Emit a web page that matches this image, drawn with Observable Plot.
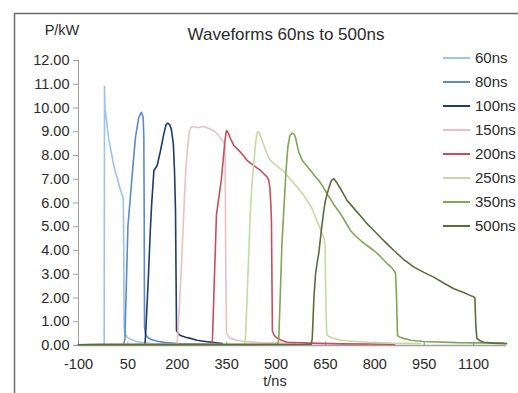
<!DOCTYPE html>
<html><head><meta charset="utf-8">
<script src="https://cdn.jsdelivr.net/npm/d3@7"></script>
<script src="https://cdn.jsdelivr.net/npm/@observablehq/plot@0.6"></script>
<style>
body{margin:0;background:#fff;overflow:hidden;font-family:"Liberation Sans",Arial,sans-serif;}
#chart{position:relative;width:518px;height:393px;overflow:hidden;}
</style></head><body><div id="chart"></div>
<script>
const seriesNames = ["60ns","80ns","100ns","150ns","200ns","250ns","350ns","500ns"];
const seriesColors = ["#9dc3e6","#5b8bc8","#1f3d68","#ecc0c2","#c4505f","#c6d9a0","#84a456","#5c6c3a"];
const xTicks = [-100,50,200,350,500,650,800,950,1100];
const yTicks = [0,1,2,3,4,5,6,7,8,9,10,11,12];

const t60 = [-100,-22,-21,-20,-19,-18,-15,-12,-8,-3,2,6,12,18,25,31,36,37.5,38.5,41,48,60,80,120,250];
const p60 = [0.03,0.05,10.9,10.2,9.65,9.85,9.5,9.1,8.7,8.3,7.95,7.65,7.3,7.05,6.65,6.4,6.2,4.0,0.8,0.5,0.35,0.25,0.15,0.08,0.05];

const t80 = [-100,38,41,50,56,62,66,73,83,91,96.5,98.4,99.5,100.5,103,109,120,140,160,200,300];
const p80 = [0.03,0.05,0.3,5.0,6.0,7.0,7.66,8.76,9.6,9.82,9.6,8.76,5.7,0.8,0.5,0.35,0.25,0.18,0.13,0.08,0.05];

const t100 = [-100,102,104,112,118,122,129,139,149,159,166,171,177,182,186,188,191.6,194.6,197.7,203,210,225,240,260,280,337];
const p100 = [0.03,0.05,0.5,2.8,4.8,5.9,7.37,7.58,8.2,8.9,9.3,9.36,9.3,9.1,8.7,8.5,7.37,5.7,0.63,0.5,0.42,0.35,0.3,0.22,0.18,0.08];

const t150 = [-100,199,201,207,213,218,222,226,230,234,237,241,245,255,265,275,285,300,315,325,333,341,345,347,349.6,355,362,380,401,450,560];
const p150 = [0.03,0.05,0.3,1.8,3.5,5.0,6.3,7.4,8.1,8.7,9.05,9.17,9.22,9.2,9.17,9.22,9.2,9.12,9.0,8.85,8.7,8.56,8.4,4.0,0.5,0.4,0.3,0.22,0.17,0.12,0.08];

const t200 = [-100,305,307,312,319,327,334,340,344,348,350,355,362,372,382,392,402,412,422,432,442,453,463,473,478,481,484,486,489,495,504,520,534,600,700,860];
const p200 = [0.03,0.05,0.3,2.5,5.5,6.3,7.0,7.9,8.5,8.95,9.05,8.95,8.7,8.42,8.28,8.14,7.98,7.79,7.68,7.58,7.48,7.37,7.23,7.09,6.95,6.67,6.0,5.26,0.6,0.42,0.3,0.2,0.14,0.1,0.07,0.05];

const t250 = [-100,405,407,412,418,422,427,432,437.7,441,444.7,449,453,458,465,473,480,488,500,513.6,525,534,549,564,580,595,608,620,632,645,649,651,654,660,675,700,740,777,850,940];
const p250 = [0.03,0.05,0.3,2.0,4.2,5.7,6.8,7.6,8.5,8.85,9.02,8.95,8.8,8.63,8.35,8.07,7.85,7.72,7.58,7.44,7.3,7.16,6.92,6.67,6.4,6.1,5.8,5.4,5.0,4.56,4.2,2.0,0.45,0.38,0.3,0.22,0.17,0.14,0.1,0.08];

const t350 = [-100,506,508.4,513,518,523.6,530,535.8,541.9,549,555,559,564,569,575,580,592,605,617,630,643,655,675,696,711,726,741,757,777,797,817,838,850,858,863,866,869,875,887,910,948,1050,1190];
const p350 = [0.03,0.05,0.3,2.2,4.3,5.7,7.3,8.35,8.84,8.94,8.9,8.77,8.45,8.14,7.95,7.79,7.58,7.37,7.15,6.95,6.68,6.39,5.95,5.54,5.2,4.84,4.62,4.42,4.2,4.0,3.75,3.44,3.3,3.16,3.05,2.0,0.42,0.36,0.3,0.22,0.17,0.12,0.1];

const t500 = [-100,607,610,615,620,625,630,638,645,650,655.5,662,668,675.5,685,696,706,716,729,741,760,777,797,817,837,858,888,919,949,979,1010,1040,1066,1091,1100,1104,1107,1110,1120,1131,1160,1200];
const p500 = [0.03,0.05,0.3,2.0,3.0,3.5,3.9,4.9,5.68,6.1,6.4,6.7,6.95,7.02,6.85,6.6,6.35,6.1,5.9,5.7,5.4,5.12,4.84,4.56,4.28,4.0,3.62,3.3,3.08,2.88,2.62,2.39,2.25,2.1,2.05,2.0,0.8,0.3,0.2,0.14,0.1,0.08];

const allSeries = [[t60,p60],[t80,p80],[t100,p100],[t150,p150],[t200,p200],[t250,p250],[t350,p350],[t500,p500]];
const rows = [];
allSeries.forEach(([t,p],i)=>t.forEach((v,j)=>rows.push({series:seriesNames[i], t:v, p:p[j]})));

const axisGray = "#a0a0a0";
const textCol = "#2b2b2b";

const plot = Plot.plot({
  width:518, height:393,
  marginLeft:78, marginRight:12, marginTop:60, marginBottom:48,
  style:{fontFamily:"'Liberation Sans', Arial, sans-serif", fontSize:"14.5px", color:textCol, background:"transparent"},
  x:{domain:[-100,1200]},
  y:{domain:[0,12]},
  color:{domain:seriesNames, range:seriesColors},
  marks:[
    Plot.axisY({ticks:yTicks, tickFormat:d=>d.toFixed(2), tickSize:5, tickPadding:4, stroke:axisGray, fill:textCol, label:null, fontSize:14.5}),
    Plot.axisX({ticks:xTicks, tickFormat:d=>String(d), tickSize:0, tickPadding:13, fill:textCol, label:null, fontSize:14.5}),
    Plot.ruleX([-100],{stroke:axisGray, strokeWidth:1}),
    Plot.ruleY([0],{stroke:axisGray, strokeWidth:1.5}),
    Plot.ruleX(xTicks,{y1:0, y2:0.14, stroke:"#7a8aa0", strokeWidth:1}),
    Plot.line(rows,{x:"t", y:"p", z:"series", stroke:"series", strokeWidth:1.6, curve:"linear"})
  ]
});
document.getElementById("chart").appendChild(plot);

const svg = d3.select(plot);
svg.insert("rect",":first-child")
  .attr("x",14.5).attr("y",13.5).attr("width",560).attr("height",420)
  .attr("fill","none").attr("stroke","#6b6b6b").attr("stroke-width",1.5);

const txt = (x,y,s,size,anchor)=>svg.append("text").attr("x",x).attr("y",y)
  .attr("text-anchor",anchor||"middle").attr("fill",textCol)
  .style("font-family","'Liberation Sans', Arial, sans-serif").style("font-size",size+"px").text(s);

txt(286,40,"Waveforms 60ns to 500ns",17);
txt(62,35,"P/kW",14.5);
txt(275,386,"t/ns",14.5);

const lg = svg.append("g");
seriesNames.forEach((n,i)=>{
  const y = 58 + 24*i;
  lg.append("line").attr("x1",443).attr("x2",470).attr("y1",y).attr("y2",y)
    .attr("stroke",seriesColors[i]).attr("stroke-width",2);
  lg.append("text").attr("x",475).attr("y",y).attr("dy","0.36em").attr("fill",textCol)
    .attr("text-anchor","start")
    .style("font-family","'Liberation Sans', Arial, sans-serif").style("font-size","15px").text(n);
});
</script>
</body></html>
